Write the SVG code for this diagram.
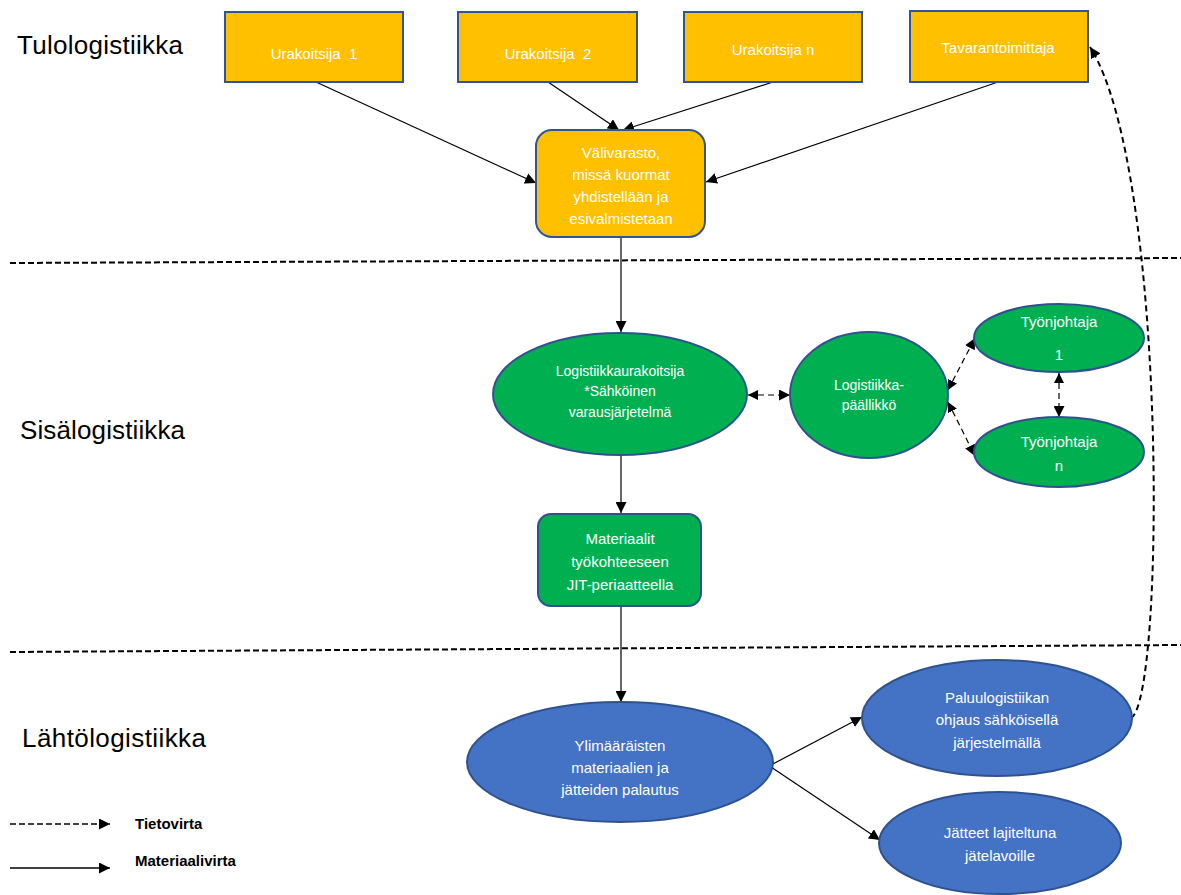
<svg xmlns="http://www.w3.org/2000/svg" width="1181" height="895" viewBox="0 0 1181 895">
  <style>
    .orange { fill: #FFC000; stroke: #2F5597; stroke-width: 2; }
    .green { fill: #00B050; stroke: #2F528F; stroke-width: 2; }
    .blue { fill: #4472C4; stroke: #2F528F; stroke-width: 2; }
    .lbl { font-family: "Liberation Sans", Arial, sans-serif; font-size: 15px; fill: #FFFFFF; text-anchor: middle; dominant-baseline: central; white-space: pre; }
    .sm { font-size: 14px; }
    .zone { font-family: "Liberation Sans", Arial, sans-serif; font-size: 26px; fill: #000000; }
    .legend { font-family: "Liberation Sans", Arial, sans-serif; font-size: 15px; font-weight: bold; fill: #000000; }
    .mat { fill: none; stroke: #000000; stroke-width: 1.2; marker-end: url(#arr); }
    .info { fill: none; stroke: #000000; stroke-width: 1.2; stroke-dasharray: 6 4; marker-end: url(#arr); marker-start: url(#arrs); }
    .sep { fill: none; stroke: #000000; stroke-width: 2; stroke-dasharray: 6 3; }
  </style>
  <defs>
    <marker id="arr" viewBox="0 0 10 10" refX="10" refY="5" markerWidth="11" markerHeight="11" markerUnits="userSpaceOnUse" orient="auto">
      <path d="M0,0 L10,5 L0,10 z" fill="#000000"/>
    </marker>
    <marker id="arrs" viewBox="0 0 10 10" refX="0" refY="5" markerWidth="10" markerHeight="10" markerUnits="userSpaceOnUse" orient="auto">
      <path d="M10,0 L0,5 L10,10 z" fill="#000000"/>
    </marker>
  </defs>

  <rect width="1181" height="895" fill="#FFFFFF"/>

  <!-- zone separators -->
  <line class="sep" x1="10" y1="263" x2="1181" y2="258"/>
  <line class="sep" x1="10" y1="652" x2="1181" y2="645"/>

  <!-- zone titles -->
  <text class="zone" x="17" y="54" textLength="166">Tulologistiikka</text>
  <text class="zone" x="20" y="439" textLength="165">Sisälogistiikka</text>
  <text class="zone" x="22" y="747" textLength="184">Lähtölogistiikka</text>

  <!-- connectors -->
  <g id="connectors">
    <line class="mat" x1="316" y1="82" x2="536" y2="183"/>
    <line class="mat" x1="548" y1="82" x2="619" y2="130"/>
    <line class="mat" x1="773" y1="82" x2="623" y2="130"/>
    <line class="mat" x1="998" y1="82" x2="706" y2="182"/>
    <line class="mat" x1="621" y1="237" x2="621" y2="332"/>
    <line class="mat" x1="621" y1="455" x2="621" y2="513"/>
    <line class="mat" x1="621" y1="606" x2="621" y2="702"/>
    <line class="mat" x1="771" y1="765" x2="862" y2="717"/>
    <line class="mat" x1="771" y1="767" x2="880" y2="840"/>
    <line class="info" x1="748" y1="395" x2="790" y2="395"/>
    <line class="info" x1="948" y1="390" x2="975" y2="338"/>
    <line class="info" x1="948" y1="402" x2="975" y2="456"/>
    <line class="info" x1="1059" y1="373" x2="1059" y2="417"/>
    <path d="M1131,718 C1165,700 1168,170 1090,47" fill="none" stroke="#000000" stroke-width="2" stroke-dasharray="6 4" marker-end="url(#arr)"/>
  </g>

  <!-- inbound logistics -->
  <g id="urakoitsija1">
    <rect class="orange" x="225" y="12" width="178" height="70"/>
    <text class="lbl" x="314" y="53">Urakoitsija  1</text>
  </g>
  <g id="urakoitsija2">
    <rect class="orange" x="458" y="12" width="179" height="70"/>
    <text class="lbl" x="548" y="53">Urakoitsija  2</text>
  </g>
  <g id="urakoitsijan">
    <rect class="orange" x="684" y="12" width="178" height="70"/>
    <text class="lbl" x="773" y="49">Urakoitsija n</text>
  </g>
  <g id="tavarantoimittaja">
    <rect class="orange" x="910" y="11" width="178" height="71"/>
    <text class="lbl" x="998" y="47">Tavarantoimittaja</text>
  </g>
  <g id="valivarasto">
    <rect class="orange" x="536" y="130" width="169" height="107" rx="16"/>
    <text class="lbl" x="621" y="152">Välivarasto,</text>
    <text class="lbl" x="621" y="174">missä kuormat</text>
    <text class="lbl" x="621" y="196">yhdistellään ja</text>
    <text class="lbl" x="621" y="218">esivalmistetaan</text>
  </g>

  <!-- internal logistics -->
  <g id="logistiikkaurakoitsija">
    <ellipse class="green" cx="620" cy="394" rx="127" ry="61"/>
    <text class="lbl sm" x="620" y="371">Logistiikkaurakoitsija</text>
    <text class="lbl sm" x="620" y="391">*Sähköinen</text>
    <text class="lbl sm" x="620" y="412">varausjärjetelmä</text>
  </g>
  <g id="logistiikkapaallikko">
    <ellipse class="green" cx="869" cy="395" rx="79" ry="63"/>
    <text class="lbl sm" x="869" y="385">Logistiikka-</text>
    <text class="lbl sm" x="869" y="405">päällikkö</text>
  </g>
  <g id="tyonjohtaja1">
    <ellipse class="green" cx="1059" cy="338" rx="85" ry="34"/>
    <text class="lbl" x="1059" y="321">Työnjohtaja</text>
    <text class="lbl" x="1059" y="354">1</text>
  </g>
  <g id="tyonjohtajan">
    <ellipse class="green" cx="1059" cy="452" rx="85" ry="35"/>
    <text class="lbl" x="1059" y="441">Työnjohtaja</text>
    <text class="lbl" x="1059" y="465">n</text>
  </g>
  <g id="materiaalit">
    <rect class="green" x="538" y="514" width="163" height="92" rx="13"/>
    <text class="lbl" x="620" y="538">Materiaalit</text>
    <text class="lbl" x="620" y="561">työkohteeseen</text>
    <text class="lbl" x="620" y="584">JIT-periaatteella</text>
  </g>

  <!-- outbound logistics -->
  <g id="ylimaaraiset">
    <ellipse class="blue" cx="620" cy="762" rx="153" ry="60"/>
    <text class="lbl" x="620" y="745">Ylimääräisten</text>
    <text class="lbl" x="620" y="767">materiaalien ja</text>
    <text class="lbl" x="620" y="789">jätteiden palautus</text>
  </g>
  <g id="paluulogistiikka">
    <ellipse class="blue" cx="997" cy="718" rx="135" ry="58"/>
    <text class="lbl" x="997" y="697">Paluulogistiikan</text>
    <text class="lbl" x="997" y="719">ohjaus sähköisellä</text>
    <text class="lbl" x="997" y="742">järjestelmällä</text>
  </g>
  <g id="jatteet">
    <ellipse class="blue" cx="1000" cy="843" rx="121" ry="51"/>
    <text class="lbl" x="1000" y="832">Jätteet lajiteltuna</text>
    <text class="lbl" x="1000" y="855">jätelavoille</text>
  </g>

  <!-- legend -->
  <g id="legend">
    <line x1="10" y1="824" x2="110" y2="824" stroke="#000000" stroke-width="1.5" stroke-dasharray="6 3" marker-end="url(#arr)"/>
    <text class="legend" x="135" y="829">Tietovirta</text>
    <line x1="10" y1="868" x2="110" y2="868" stroke="#000000" stroke-width="1.5" marker-end="url(#arr)"/>
    <text class="legend" x="135" y="866">Materiaalivirta</text>
  </g>
</svg>
